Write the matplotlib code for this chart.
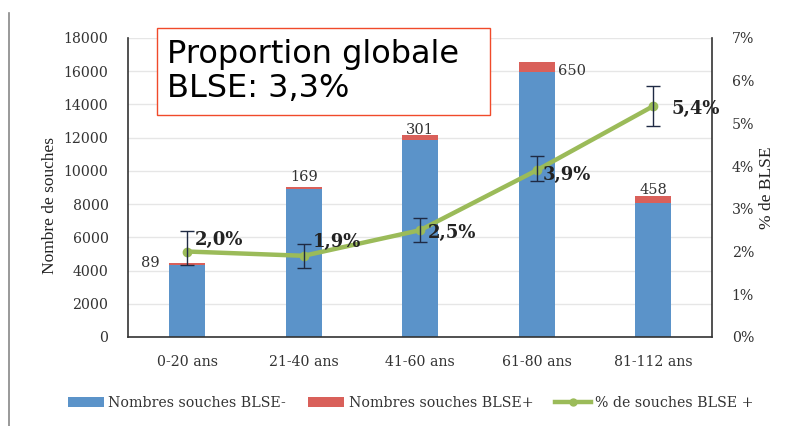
import matplotlib.pyplot as plt
from matplotlib.lines import Line2D
from matplotlib.patches import Patch, Rectangle
import numpy as np

# Data
categories = ['0-20 ans', '21-40 ans', '41-60 ans', '61-80 ans', '81-112 ans']
blse_neg = [4360, 8880, 11870, 15920, 8050]
blse_pos = [89, 169, 301, 650, 458]
pct_blse = [2.0, 1.9, 2.5, 3.9, 5.4]
pct_low = [1.69, 1.62, 2.22, 3.65, 4.94]
pct_high = [2.48, 2.18, 2.79, 4.24, 5.87]
pct_labels = ['2,0%', '1,9%', '2,5%', '3,9%', '5,4%']

BLUE = '#5b93c9'
RED = '#d9605a'
GREEN = '#9bbb59'
SERIF = ['DejaVu Serif']
TXT = '#333333'

fig = plt.figure(figsize=(7.95, 4.26), dpi=100)
ax = fig.add_axes([0.161, 0.209, 0.735, 0.702])
x = np.arange(len(categories))

ax.bar(x, blse_neg, width=0.31, color=BLUE, zorder=2)
ax.bar(x, blse_pos, width=0.31, bottom=blse_neg, color=RED, zorder=2)

ax.set_xlim(-0.51, 4.51)
ax.set_ylim(0, 18000)
ax.set_yticks(range(0, 18001, 2000))
ax.grid(axis='y', color='#e6e6e6', linewidth=1, zorder=0)
ax.set_xticks(x)
ax.set_xticklabels(categories, family=SERIF, fontsize=10.2, color=TXT)
for lab in ax.get_yticklabels():
    lab.set_family(SERIF)
    lab.set_fontsize(10.2)
    lab.set_color(TXT)
ax.tick_params(length=0, pad=14)
ax.tick_params(axis='x', pad=13)
ax.set_ylabel('Nombre de souches', family=['Liberation Serif'], fontsize=12.5, color='#222222')
ax.yaxis.set_label_coords(-0.12, 0.44)
for s in ['top', 'right']:
    ax.spines[s].set_visible(False)
for s in ['left', 'bottom']:
    ax.spines[s].set_color('#333333')
    ax.spines[s].set_linewidth(1.2)

# count labels
ax.text(x[0] - 0.24, 4460, str(blse_pos[0]), family=SERIF, fontsize=10.5,
        ha='right', va='center', color=TXT)
for i, yv in zip([1, 2, 4], [9640, 12470, 8855]):
    ax.text(x[i], yv, str(blse_pos[i]), family=SERIF, fontsize=10.5,
            ha='center', va='center', color=TXT)
ax.text(x[3] + 0.18, 16020, str(blse_pos[3]), family=SERIF, fontsize=10.5,
        ha='left', va='center', color=TXT)

# secondary axis for percentages
ax2 = ax.twinx()
ax2.set_ylim(0, 7)
ax2.set_yticks(range(0, 8))
ax2.set_yticklabels([f'{v}%' for v in range(0, 8)], family=SERIF, fontsize=10.2, color=TXT)
ax2.tick_params(length=0, pad=14)
for s in ['top', 'left', 'bottom']:
    ax2.spines[s].set_visible(False)
ax2.spines['right'].set_color('#333333')
ax2.spines['right'].set_linewidth(1.2)
ax2.set_ylabel('% de BLSE', family=['Liberation Serif'], fontsize=12.5, color='#222222', rotation=90)
ax2.yaxis.set_label_coords(1.08, 0.5)

err = [np.array(pct_blse) - np.array(pct_low), np.array(pct_high) - np.array(pct_blse)]
ax2.plot(x, pct_blse, color=GREEN, linewidth=3.2, marker='o', markersize=6, zorder=3)
ax2.errorbar(x, pct_blse, yerr=err, fmt='none', ecolor='#1f2a44', elinewidth=1,
             capsize=5, capthick=1, zorder=4)
offsets = [(0.06, 0.28), (0.08, 0.33), (0.07, -0.07), (0.05, -0.12), (0.16, -0.07)]
for i, lab in enumerate(pct_labels):
    ax2.text(x[i] + offsets[i][0], pct_blse[i] + offsets[i][1], lab, family=SERIF,
             fontsize=13, fontweight='bold', color='#222222', ha='left', va='center', zorder=5)

# global proportion box
fig.add_artist(Rectangle((0.1975, 0.730), 0.419, 0.204, transform=fig.transFigure,
                         facecolor='white', edgecolor='#f04a2a', linewidth=1, zorder=10))
fig.text(0.21, 0.832, 'Proportion globale\nBLSE: 3,3%', fontsize=23, family='DejaVu Sans',
         ha='left', va='center', linespacing=1.1, color='black', zorder=11)

# legend
handles = [Patch(facecolor=BLUE), Patch(facecolor=RED),
           Line2D([0], [0], color=GREEN, linewidth=3.2, marker='o', markersize=5)]
fig.legend(handles, ['Nombres souches BLSE-', 'Nombres souches BLSE+', '% de souches BLSE +'],
           loc='center', bbox_to_anchor=(0.517, 0.055), ncol=3, frameon=False,
           prop={'family': SERIF, 'size': 10.2}, handlelength=2.55, handleheight=0.7,
           columnspacing=1.55, handletextpad=0.3, labelcolor=TXT)

# left frame line of the original screenshot
fig.add_artist(Line2D([0.011, 0.011], [0.0, 0.97], color='#888888', linewidth=1.2))

fig.savefig('out.png', dpi=100)
